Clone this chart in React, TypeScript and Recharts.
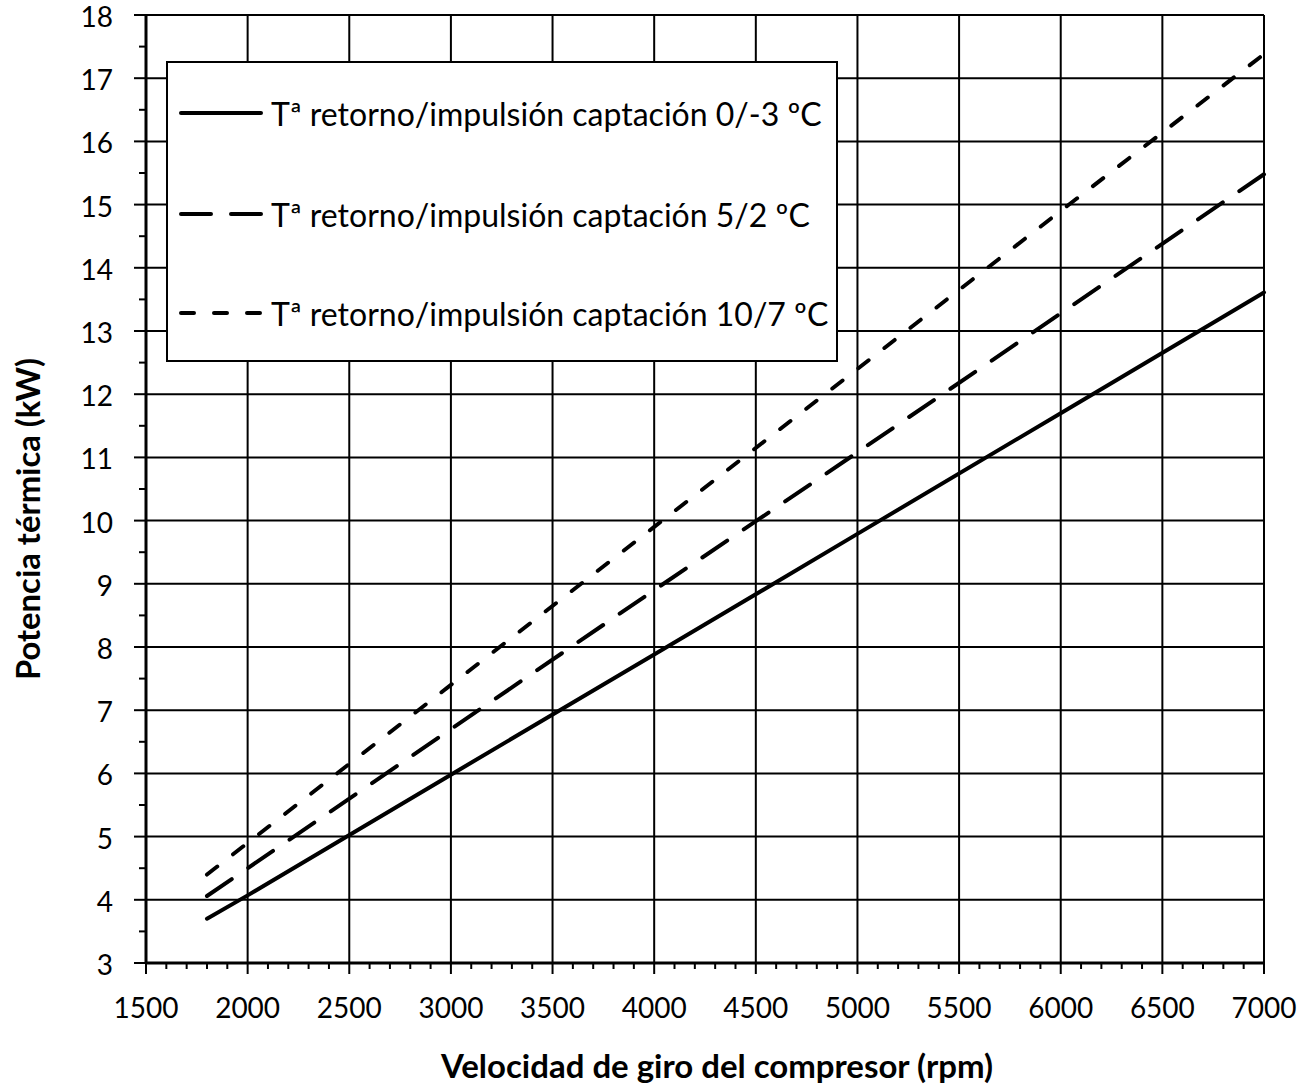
import React from "react";
import { LineChart, Line, XAxis, YAxis, ReferenceLine, Legend } from "recharts";

const FONT = "Lato, Carlito, Calibri, sans-serif";

// rpm sampled along the curves
const rpm = [1800, 2000, 3000, 4000, 5000, 6000, 7000];
// Tª retorno/impulsión captación 0/-3 ºC
const serie0 = [3.7, 4.07, 5.98, 7.88, 9.79, 11.7, 13.61];
// Tª retorno/impulsión captación 5/2 ºC
const serie5 = [4.06, 4.5, 6.7, 8.9, 11.08, 13.28, 15.48];
// Tª retorno/impulsión captación 10/7 ºC
const serie10 = [4.4, 4.9, 7.4, 9.9, 12.4, 14.9, 17.38];

const xMajor = [1500, 2000, 2500, 3000, 3500, 4000, 4500, 5000, 5500, 6000, 6500, 7000];
const xMinor = Array.from({ length: 56 }, (_, i) => 1500 + i * 100);
const yMajor = [3, 4, 5, 6, 7, 8, 9, 10, 11, 12, 13, 14, 15, 16, 17, 18];
const yMinor = Array.from({ length: 31 }, (_, i) => 3 + i * 0.5);

const seriesNames = [
  "Tª retorno/impulsión captación 0/-3 ºC",
  "Tª retorno/impulsión captación 5/2 ºC",
  "Tª retorno/impulsión captación 10/7 ºC",
];
const dashes = [undefined, "30 20", "13 20"];

const data = rpm.map((r, i) => ({
  rpm: r,
  s0: serie0[i],
  s5: serie5[i],
  s10: serie10[i],
}));

function XTick(props: any) {
  const { x, y, payload } = props;
  const major = payload.value % 500 === 0;
  return (
    <g>
      <line x1={x} y1={y} x2={x} y2={y + (major ? 11 : 6)} stroke="#000" strokeWidth={2} />
      {major && (
        <text x={x} y={y + 44} textAnchor="middle" dominantBaseline="central" fontFamily={FONT} fontSize={28} fill="#000">
          {payload.value}
        </text>
      )}
    </g>
  );
}

function YTick(props: any) {
  const { x, y, payload } = props;
  const major = Number.isInteger(payload.value);
  return (
    <g>
      <line x1={x - (major ? 12 : 7)} y1={y} x2={x} y2={y} stroke="#000" strokeWidth={2} />
      {major && (
        <text x={x - 33} y={y + 1} textAnchor="end" dominantBaseline="central" fontFamily={FONT} fontSize={28} fill="#000">
          {payload.value}
        </text>
      )}
    </g>
  );
}

function LegendBox() {
  const rows = [50, 151, 250];
  return (
    <div style={{ width: 672, height: 301, border: "2px solid #000", background: "#fff", boxSizing: "border-box" }}>
      <svg width={668} height={297}>
        {seriesNames.map((name, i) => (
          <g key={name}>
            <line x1={13} y1={rows[i]} x2={93} y2={rows[i]} stroke="#000" strokeWidth={4} strokeLinecap="round" strokeDasharray={dashes[i]} />
            <text x={103} y={rows[i]} dominantBaseline="central" fontFamily={FONT} fontSize={32} fill="#000">
              {name}
            </text>
          </g>
        ))}
      </svg>
    </div>
  );
}

export default function App() {
  return (
    <div style={{ position: "absolute", left: 0, top: 0, background: "#fff" }}>
      <LineChart width={1314} height={1087} data={data} margin={{ top: 15, right: 50, bottom: 0, left: 0 }}>
        {yMajor.slice(1).map((v) => (
          <ReferenceLine key={"h" + v} y={v} stroke="#000" strokeWidth={2} />
        ))}
        {xMajor.slice(1).map((v) => (
          <ReferenceLine key={"v" + v} x={v} stroke="#000" strokeWidth={2} />
        ))}
        <XAxis
          dataKey="rpm"
          type="number"
          domain={[1500, 7000]}
          ticks={xMinor}
          interval={0}
          height={124}
          tickSize={0}
          tickMargin={0}
          tickLine={false}
          axisLine={{ stroke: "#000", strokeWidth: 3 }}
          tick={<XTick />}
          label={{
            content: (p: any) => {
              const vb = p.viewBox;
              return (
                <text x={vb.x + vb.width / 2 + 12} y={vb.y + 102} textAnchor="middle" dominantBaseline="central" fontFamily={FONT} fontWeight="bold" fontSize={32} textLength={552} lengthAdjust="spacingAndGlyphs" fill="#000">
                  Velocidad de giro del compresor (rpm)
                </text>
              );
            },
          }}
        />
        <YAxis
          type="number"
          domain={[3, 18]}
          ticks={yMinor}
          interval={0}
          width={146}
          tickSize={0}
          tickMargin={0}
          tickLine={false}
          axisLine={{ stroke: "#000", strokeWidth: 3 }}
          tick={<YTick />}
          label={{
            content: (p: any) => {
              const vb = p.viewBox;
              const cx = vb.x + 27;
              const cy = vb.y + vb.height / 2 + 30;
              return (
                <text x={cx} y={cy} transform={`rotate(-90 ${cx} ${cy})`} textAnchor="middle" dominantBaseline="central" fontFamily={FONT} fontWeight="bold" fontSize={32} textLength={322} lengthAdjust="spacingAndGlyphs" fill="#000">
                  Potencia térmica (kW)
                </text>
              );
            },
          }}
        />
        <Legend
          layout="vertical"
          align="center"
          verticalAlign="middle"
          wrapperStyle={{ position: "absolute", left: 166, top: 61, width: 672, height: 301 }}
          content={() => <LegendBox />}
        />
        <Line dataKey="s0" name={seriesNames[0]} type="linear" stroke="#000" strokeWidth={4} strokeLinecap="round" dot={false} isAnimationActive={false} />
        <Line dataKey="s5" name={seriesNames[1]} type="linear" stroke="#000" strokeWidth={4} strokeLinecap="round" strokeDasharray={dashes[1]} dot={false} isAnimationActive={false} />
        <Line dataKey="s10" name={seriesNames[2]} type="linear" stroke="#000" strokeWidth={4} strokeLinecap="round" strokeDasharray={dashes[2]} dot={false} isAnimationActive={false} />
      </LineChart>
    </div>
  );
}
